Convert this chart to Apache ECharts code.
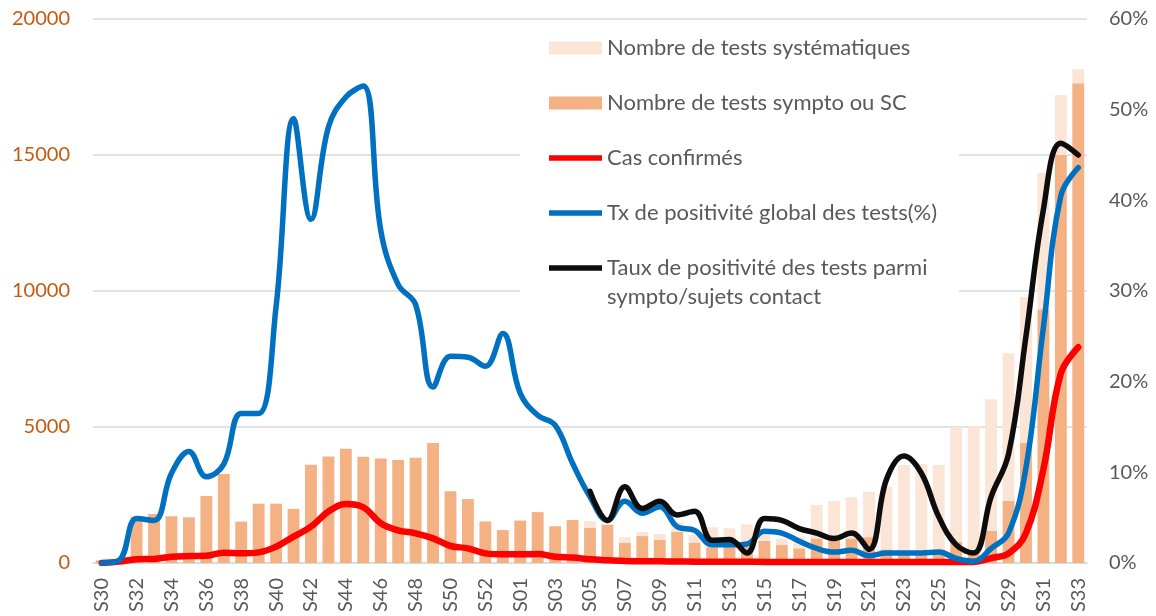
<!DOCTYPE html>
<html>
<head>
<meta charset="utf-8">
<script src="https://cdn.jsdelivr.net/npm/echarts@6/dist/echarts.min.js"></script>
<style>
  html, body { margin: 0; padding: 0; background: #fff; }
  #chart { width: 1156px; height: 616px; }
</style>
</head>
<body>
<div id="chart"></div>
<script>
  // semaines S30..S53 puis S01..S33
  var weeks = ['S30','S31','S32','S33','S34','S35','S36','S37','S38','S39','S40','S41','S42','S43','S44','S45','S46','S47','S48','S49','S50','S51','S52','S53',
    'S01','S02','S03','S04','S05','S06','S07','S08','S09','S10','S11','S12','S13','S14','S15','S16','S17','S18','S19','S20','S21','S22','S23','S24','S25','S26','S27','S28','S29','S30','S31','S32','S33'];

  // nombre de tests sympto ou SC (barre du bas)
  var testsSympto = [100, 100, 1700, 1800, 1720, 1680, 2460, 3270, 1520, 2180, 2180, 1990, 3610, 3920, 4200, 3910, 3840, 3790, 3870, 4410, 2640, 2350, 1530, 1210,
    1560, 1870, 1350, 1580, 1300, 1400, 750, 990, 850, 1150, 750, 580, 800, 600, 820, 660, 540, 900, 850, 900, 950, 500, 400, 400, 500, 780, 480, 1190, 2290, 4420, 9330, 15000, 17640];

  // nombre de tests systématiques (empilé au dessus)
  var testsSystem = [0, 0, 0, 0, 0, 0, 0, 0, 0, 0, 0, 0, 0, 0, 0, 0, 0, 0, 0, 0, 0, 0, 0, 0,
    0, 0, 0, 0, 240, 50, 195, 150, 215, 350, 280, 730, 475, 820, 280, 240, 430, 1230, 1430, 1515, 1670, 2300, 3200, 3240, 3100, 4230, 4550, 4830, 5420, 5350, 5020, 2200, 510];

  // cas confirmés (axe gauche)
  var casConfirmes = [0, 50, 135, 150, 230, 256, 265, 380, 355, 390, 600, 970, 1335, 1890, 2170, 2050, 1460, 1200, 1090, 905, 625, 540, 355, 320,
    320, 330, 230, 200, 135, 100, 70, 60, 60, 55, 50, 50, 45, 45, 40, 40, 40, 40, 40, 40, 40, 40, 40, 40, 40, 40, 40, 180, 355, 1100, 3450, 6970, 7930];

  // taux de positivité global (%) (axe droit)
  var txGlobal = [0, 0.3, 4.9, 4.7, 9.9, 12.3, 9.5, 10.9, 16.5, 16.5, 28.3, 49.0, 37.9, 48.1, 51.4, 52.6, 36.7, 30.7, 28.5, 19.4, 22.8, 22.7, 21.7, 25.3,
    18.7, 16.3, 15.2, 11.0, 7.3, 4.7, 6.8, 5.5, 6.2, 4.0, 3.6, 2.0, 2.0, 2.1, 3.5, 3.3, 2.4, 1.6, 1.2, 1.4, 0.8, 1.1, 1.1, 1.1, 1.2, 0.5, 0.2, 1.6, 3.3, 10.5, 26.0, 40.5, 43.6];

  // taux de positivité parmi sympto/sujets contact (%), à partir de S05
  var txSympto = [null, null, null, null, null, null, null, null, null, null, null, null, null, null, null, null, null, null, null, null, null, null, null, null,
    null, null, null, null, 7.9, 4.7, 8.4, 6.0, 6.8, 5.3, 5.7, 2.5, 2.6, 1.1, 4.9, 4.7, 3.8, 3.3, 2.7, 3.3, 1.5, 9.2, 11.8, 9.9, 5.1, 2.0, 1.1, 7.3, 12.0, 25.0, 39.0, 46.3, 45.0];

  var nameSys = 'Nombre de tests systématiques';
  var nameSym = 'Nombre de tests sympto ou SC';
  var nameCas = 'Cas confirmés';
  var nameTx = 'Tx de positivité global des tests(%)';
  var nameTaux = 'Taux de positivité des tests parmi sympto/sujets contact';

  var font = 'Lato, "Open Sans", sans-serif';
  var grey = '#595959';
  var gridGrey = '#D9D9D9';
  var lineIcon = 'path://M0,0L100,0L100,10L0,10Z';

  var option = {
    animation: false,
    textStyle: { fontFamily: font },
    grid: { left: 93, right: 69, top: 19, bottom: 53, containLabel: false },
    legend: {
      orient: 'vertical',
      left: 520,
      top: 25,
      padding: [12, 22, 40, 29],
      itemGap: 33,
      itemWidth: 53,
      itemHeight: 13,
      backgroundColor: '#fff',
      data: [
        {name: nameSys, icon: 'rect'},
        {name: nameSym, icon: 'rect'},
        {name: nameCas, icon: lineIcon},
        {name: nameTx, icon: lineIcon},
        {name: nameTaux, icon: lineIcon}
      ],
      formatter: function (name) {
        if (name == nameTaux) {
          return 'Taux de positivité des tests parmi';
        }
        return name;
      },
      textStyle: { fontFamily: font, fontSize: 22, lineHeight: 22, color: grey }
    },
    graphic: [{
      type: 'text',
      left: 607,
      top: 286,
      z: 100,
      style: { text: 'sympto/sujets contact', font: '22px ' + font, fill: grey }
    }],
    xAxis: {
      type: 'category',
      data: weeks,
      boundaryGap: true,
      axisTick: { show: false },
      axisLine: { lineStyle: { color: gridGrey, width: 1.5 } },
      axisLabel: { interval: 1, rotate: 90, margin: 15, fontSize: 20, color: grey, fontFamily: font }
    },
    yAxis: [{
      type: 'value',
      min: 0,
      max: 20000,
      interval: 5000,
      axisLine: { show: false },
      axisTick: { show: false },
      splitLine: { lineStyle: { color: gridGrey, width: 1.5 } },
      axisLabel: { margin: 23, fontSize: 20, color: '#C55A11', fontFamily: font,
        formatter: function (v) { return String(v); } }
    }, {
      type: 'value',
      min: 0,
      max: 60,
      interval: 10,
      axisLine: { show: false },
      axisTick: { show: false },
      splitLine: { show: false },
      axisLabel: { margin: 22, fontSize: 20, color: grey, fontFamily: font, formatter: '{value}%' }
    }],
    series: [{
      name: nameSym,
      type: 'bar',
      stack: 'tests',
      barCategoryGap: '32%',
      itemStyle: { color: '#F4B183' },
      data: testsSympto
    }, {
      name: nameSys,
      type: 'bar',
      stack: 'tests',
      barCategoryGap: '32%',
      itemStyle: { color: '#FBE5D6' },
      data: testsSystem
    }, {
      name: nameCas,
      type: 'line',
      smooth: 0.4,
      symbol: 'none',
      lineStyle: { color: '#FF0000', width: 6.5, cap: 'round' },
      itemStyle: { color: '#FF0000' },
      data: casConfirmes
    }, {
      name: nameTx,
      type: 'line',
      yAxisIndex: 1,
      smooth: 0.4,
      symbol: 'none',
      lineStyle: { color: '#0070C0', width: 5.5, cap: 'round' },
      itemStyle: { color: '#0070C0' },
      data: txGlobal
    }, {
      name: nameTaux,
      type: 'line',
      yAxisIndex: 1,
      smooth: 0.4,
      symbol: 'none',
      lineStyle: { color: '#0D0D0D', width: 5.5, cap: 'round' },
      itemStyle: { color: '#0D0D0D' },
      data: txSympto
    }]
  };

  var myChart = echarts.init(document.getElementById('chart'));
  myChart.setOption(option);
</script>
</body>
</html>
